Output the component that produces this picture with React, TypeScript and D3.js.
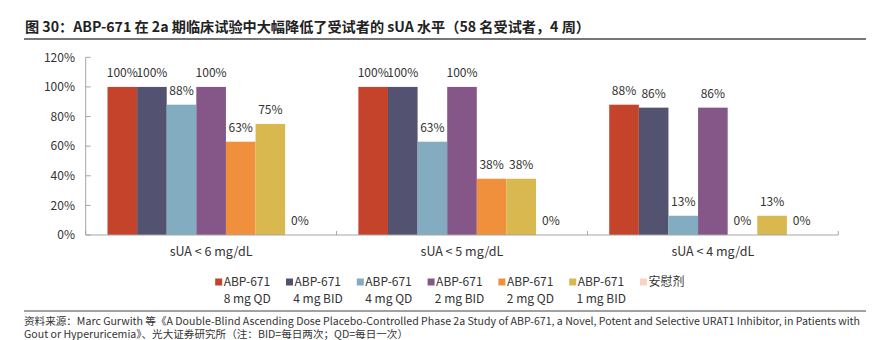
import React from "react";
import * as d3 from "d3";

const categories = ["sUA < 6 mg/dL", "sUA < 5 mg/dL", "sUA < 4 mg/dL"];
const seriesLine1 = ["ABP-671", "ABP-671", "ABP-671", "ABP-671", "ABP-671", "ABP-671", "安慰剂"];
const seriesLine2 = ["8 mg QD", "4 mg BID", "4 mg QD", "2 mg BID", "2 mg QD", "1 mg BID", ""];
const seriesColors = ["#C4432A", "#535270", "#84ACC1", "#855788", "#F0903D", "#D9B84F", "#F9D3C5"];
// values per series, across categories
const s8QD = [100, 100, 88];
const s4BID = [100, 100, 86];
const s4QD = [88, 63, 13];
const s2BID = [100, 100, 86];
const s2QD = [63, 38, 0];
const s1BID = [75, 38, 13];
const placebo = [0, 0, 0];
const seriesValues = [s8QD, s4BID, s4QD, s2BID, s2QD, s1BID, placebo];
const yTicks = [0, 20, 40, 60, 80, 100, 120];

const title = "图 30：ABP-671 在 2a 期临床试验中大幅降低了受试者的 sUA 水平（58 名受试者，4 周）";
const source1 = "资料来源：Marc Gurwith 等《A Double-Blind Ascending Dose Placebo-Controlled Phase 2a Study of ABP-671, a Novel, Potent and Selective URAT1 Inhibitor, in Patients with";
const source2 = "Gout or Hyperuricemia》、光大证券研究所（注：BID=每日两次；QD=每日一次）";

const FONT = "'Noto Sans CJK SC', 'Noto Sans', sans-serif";

export default function App() {
  const W = 882, H = 340;
  const x0 = 85.7, x1 = 838.3;
  const yBottom = 235, yTop = 57.3;
  const x = d3.scaleBand<string>().domain(categories).range([x0, x1]).padding(0);
  const gw = x.bandwidth();
  const inner = d3.scaleBand<number>().domain(d3.range(seriesValues.length)).range([21.8, gw - 21.8]).padding(0);
  const y = d3.scaleLinear().domain([0, 120]).range([yBottom, yTop]);
  const axisColor = "#A6A6A6";

  const legendX0 = 215.2, legendStep = 70.8, legendY = 282;

  return (
    <svg width={W} height={H} style={{ position: "absolute", left: 0, top: 0, background: "#fff" }} fontFamily={FONT}>
      <rect width={W} height={H} fill="#fff" />
      {/* Title */}
      <text x={25} y={32} fontSize={14} fontWeight="bold" fill="#222" textLength={565} lengthAdjust="spacingAndGlyphs">{title}</text>
      <line x1={24} x2={866} y1={39} y2={39} stroke="#777" strokeWidth={2} />

      {/* Y axis */}
      <line x1={x0} x2={x0} y1={yTop} y2={yBottom} stroke={axisColor} strokeWidth={1} />
      {yTicks.map((t) => (
        <g key={t}>
          <line x1={x0} x2={x0 + 5} y1={y(t)} y2={y(t)} stroke={axisColor} strokeWidth={1} />
          <text x={75} y={y(t) + 4.3} fontSize={12} textAnchor="end" fill="#333">{t}%</text>
        </g>
      ))}

      {/* Bars */}
      {categories.map((c, ci) => (
        <g key={c} transform={`translate(${x(c)},0)`}>
          {seriesValues.map((vals, si) => {
            const v = vals[ci];
            const bx = inner(si)!;
            const bw = inner.bandwidth();
            return (
              <g key={si}>
                {v > 0 && (
                  <rect x={bx} y={y(v)} width={bw} height={y(0) - y(v)} fill={seriesColors[si]} />
                )}
                <text x={bx + bw / 2} y={y(v) - 10} fontSize={12} textAnchor="middle" fill="#333">{v}%</text>
              </g>
            );
          })}
          <text x={gw / 2} y={256} fontSize={12.5} textAnchor="middle" fill="#333">{c}</text>
        </g>
      ))}

      {/* X axis */}
      <line x1={x0} x2={x1} y1={yBottom} y2={yBottom} stroke={axisColor} strokeWidth={1} />
      {[...categories.map((c) => x(c)!), x1].map((t, i) => (
        <line key={i} x1={t} x2={t} y1={yBottom} y2={yBottom - 4} stroke={axisColor} strokeWidth={1} />
      ))}

      {/* Legend */}
      {seriesLine1.map((l, i) => {
        const lx = legendX0 + i * legendStep;
        const tx = lx + 8.5;
        return (
          <g key={i}>
            <rect x={lx} y={legendY - 3.5} width={7} height={7} fill={seriesColors[i]} />
            <text x={tx} y={legendY + 4.3} fontSize={12} fill="#333">{l}</text>
            {seriesLine2[i] && (
              <text x={tx + 23.5} y={legendY + 21} fontSize={12} textAnchor="middle" fill="#333">{seriesLine2[i]}</text>
            )}
          </g>
        );
      })}

      {/* Source */}
      <line x1={24} x2={866} y1={311} y2={311} stroke="#444" strokeWidth={1} />
      <text x={24} y={325} fontSize={10.5} fill="#333" textLength={836} lengthAdjust="spacingAndGlyphs">{source1}</text>
      <text x={24} y={338} fontSize={10.5} fill="#333" textLength={384} lengthAdjust="spacingAndGlyphs">{source2}</text>
    </svg>
  );
}
